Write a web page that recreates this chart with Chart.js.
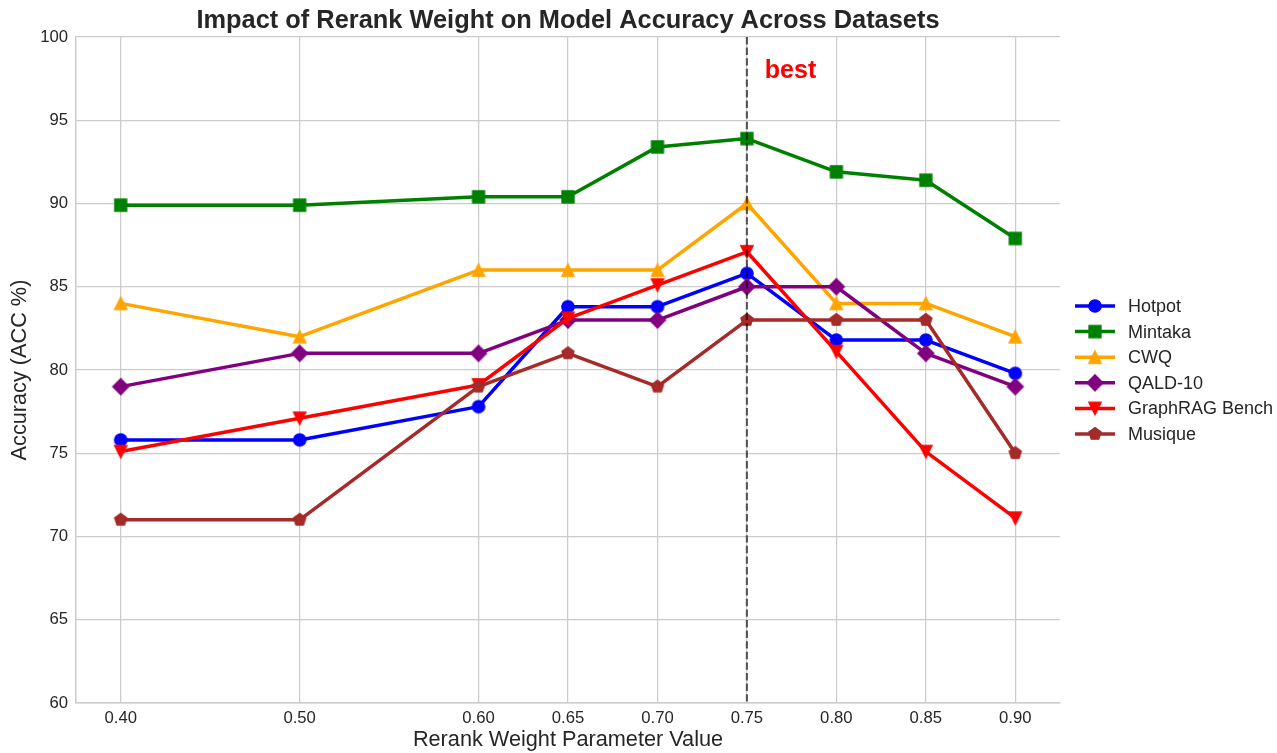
<!DOCTYPE html>
<html>
<head>
<meta charset="utf-8">
<script src="https://cdn.jsdelivr.net/npm/chart.js@4/dist/chart.umd.min.js"></script>
<style>
  html, body { margin: 0; padding: 0; background: #fff; }
  #chart { display: block; }
</style>
</head>
<body>
<canvas id="chart" width="1277" height="753"></canvas>
<script>
// rerank weight values (x axis ticks)
const weights = [0.40, 0.50, 0.60, 0.65, 0.70, 0.75, 0.80, 0.85, 0.90];
const bestWeight = 0.75;

// accuracy per dataset
const hotpot   = [75.8, 75.8, 77.8, 83.8, 83.8, 85.8, 81.8, 81.8, 79.8];
const mintaka  = [89.9, 89.9, 90.4, 90.4, 93.4, 93.9, 91.9, 91.4, 87.9];
const cwq      = [84, 82, 86, 86, 86, 90, 84, 84, 82];
const qald10   = [79, 81, 81, 83, 83, 85, 85, 81, 79];
const graphrag = [75.1, 77.1, 79.1, 83.1, 85.1, 87.1, 81.1, 75.1, 71.1];
const musique  = [71, 71, 79, 81, 79, 83, 83, 83, 75];

const yTicks = [60, 65, 70, 75, 80, 85, 90, 95, 100];

const FONT = '"Liberation Sans", Arial, Helvetica, sans-serif';
const TEXT = '#262626';

// matplotlib-like marker images
function makeMarker(shape, color) {
  const c = document.createElement('canvas');
  c.width = 24; c.height = 24;
  const g = c.getContext('2d');
  const cx = 12, cy = 12;
  g.fillStyle = color;
  g.strokeStyle = color;
  g.lineWidth = 1.3;
  g.lineJoin = 'miter';
  g.beginPath();
  if (shape === 'circle') {
    g.arc(cx, cy, 6.2, 0, Math.PI * 2);
  } else if (shape === 'square') {
    g.rect(cx - 6, cy - 6, 12, 12);
  } else if (shape === 'diamond') {
    const r = 8;
    g.moveTo(cx, cy - r); g.lineTo(cx + r, cy); g.lineTo(cx, cy + r); g.lineTo(cx - r, cy);
  } else if (shape === 'tri-up') {
    g.moveTo(cx, cy - 6.2); g.lineTo(cx + 6.2, cy + 6.2); g.lineTo(cx - 6.2, cy + 6.2);
  } else if (shape === 'tri-down') {
    g.moveTo(cx, cy + 6.2); g.lineTo(cx + 6.2, cy - 6.2); g.lineTo(cx - 6.2, cy - 6.2);
  } else if (shape === 'pentagon') {
    const r = 6.4;
    for (let k = 0; k < 5; k++) {
      const a = -Math.PI / 2 + k * 2 * Math.PI / 5;
      const px = cx + r * Math.cos(a), py = cy + r * Math.sin(a);
      if (k === 0) g.moveTo(px, py); else g.lineTo(px, py);
    }
  }
  g.closePath();
  g.fill();
  g.stroke();
  return c;
}

const series = [
  { label: 'Hotpot',         data: hotpot,   color: 'blue',    marker: 'circle' },
  { label: 'Mintaka',        data: mintaka,  color: 'green',   marker: 'square' },
  { label: 'CWQ',            data: cwq,      color: 'orange',  marker: 'tri-up' },
  { label: 'QALD-10',        data: qald10,   color: 'purple',  marker: 'diamond' },
  { label: 'GraphRAG Bench', data: graphrag, color: 'red',     marker: 'tri-down' },
  { label: 'Musique',        data: musique,  color: '#a52a2a', marker: 'pentagon' }
];

const datasets = series.map((s, i) => {
  s.img = makeMarker(s.marker, s.color);
  return {
    label: s.label,
    data: s.data.map((v, j) => ({ x: weights[j], y: v })),
    borderColor: s.color,
    backgroundColor: s.color,
    borderWidth: 3.5,
    borderJoinStyle: 'round',
    pointStyle: s.img,
    pointRadius: 6,
    tension: 0,
    order: series.length - i
  };
});

// dashed "best" line + label, title and the custom legend
const extras = {
  id: 'extras',
  afterDatasetsDraw(chart) {
    const { ctx, chartArea, scales } = chart;
    const x = scales.x.getPixelForValue(bestWeight);
    ctx.save();
    ctx.strokeStyle = 'rgba(0,0,0,0.6)';
    ctx.lineWidth = 2.2;
    ctx.setLineDash([7.4, 3.2]);
    ctx.beginPath();
    ctx.moveTo(x, chartArea.top);
    ctx.lineTo(x, chartArea.bottom);
    ctx.stroke();
    ctx.setLineDash([]);
    ctx.fillStyle = 'red';
    ctx.font = 'bold 25px ' + FONT;
    ctx.textAlign = 'left';
    ctx.textBaseline = 'middle';
    ctx.fillText('best', scales.x.getPixelForValue(0.76), scales.y.getPixelForValue(98) + 1);
    ctx.restore();
  },
  afterDraw(chart) {
    const { ctx, chartArea } = chart;
    const mid = (chartArea.top + chartArea.bottom) / 2;
    const step = 25.6;
    const x0 = chartArea.right + 15;
    ctx.save();
    ctx.font = '18px ' + FONT;
    ctx.textBaseline = 'middle';
    ctx.textAlign = 'left';
    series.forEach((s, i) => {
      const y = mid + (i - (series.length - 1) / 2) * step;
      ctx.strokeStyle = s.color;
      ctx.lineWidth = 3.5;
      ctx.beginPath();
      ctx.moveTo(x0, y);
      ctx.lineTo(x0 + 40, y);
      ctx.stroke();
      ctx.drawImage(s.img, x0 + 20 - s.img.width / 2, y - s.img.height / 2);
      ctx.fillStyle = TEXT;
      ctx.fillText(s.label, x0 + 53, y + 1);
    });
    // title centred over the plot area
    ctx.font = 'bold 25.4px ' + FONT;
    ctx.textAlign = 'center';
    ctx.textBaseline = 'alphabetic';
    ctx.fillText('Impact of Rerank Weight on Model Accuracy Across Datasets',
      (chartArea.left + chartArea.right) / 2, 28);
    ctx.restore();
  }
};

new Chart(document.getElementById('chart'), {
  type: 'line',
  data: { datasets },
  options: {
    responsive: false,
    animation: false,
    devicePixelRatio: 1,
    layout: { padding: { top: 37, right: 217, left: 0, bottom: 0 } },
    plugins: { legend: { display: false }, tooltip: { enabled: false } },
    scales: {
      x: {
        type: 'linear',
        min: 0.375,
        max: 0.925,
        afterBuildTicks: (axis) => { axis.ticks = weights.map(v => ({ value: v })); },
        afterFit: (axis) => { axis.height = 50; },
        ticks: {
          callback: (v) => Number(v).toFixed(2),
          color: TEXT,
          font: { family: FONT, size: 16.7 },
          padding: 5,
          maxRotation: 0,
          autoSkip: false
        },
        grid: { color: '#cccccc', lineWidth: 1.25, drawTicks: false },
        border: { color: '#cccccc', width: 1.5 },
        title: {
          display: true,
          text: 'Rerank Weight Parameter Value',
          color: TEXT,
          font: { family: FONT, size: 21.7 },
          padding: { top: 0, bottom: 0 }
        }
      },
      y: {
        min: 60,
        max: 100,
        afterBuildTicks: (axis) => { axis.ticks = yTicks.map(v => ({ value: v })); },
        afterFit: (axis) => { axis.width = 76; },
        ticks: {
          color: TEXT,
          font: { family: FONT, size: 16.7 },
          padding: 8
        },
        grid: { color: '#cccccc', lineWidth: 1.25, drawTicks: false },
        border: { color: '#cccccc', width: 1.5 },
        title: {
          display: true,
          text: 'Accuracy (ACC %)',
          color: TEXT,
          font: { family: FONT, size: 21.7 },
          padding: { top: 7, bottom: 0 }
        }
      }
    }
  },
  plugins: [extras]
});
</script>
</body>
</html>
